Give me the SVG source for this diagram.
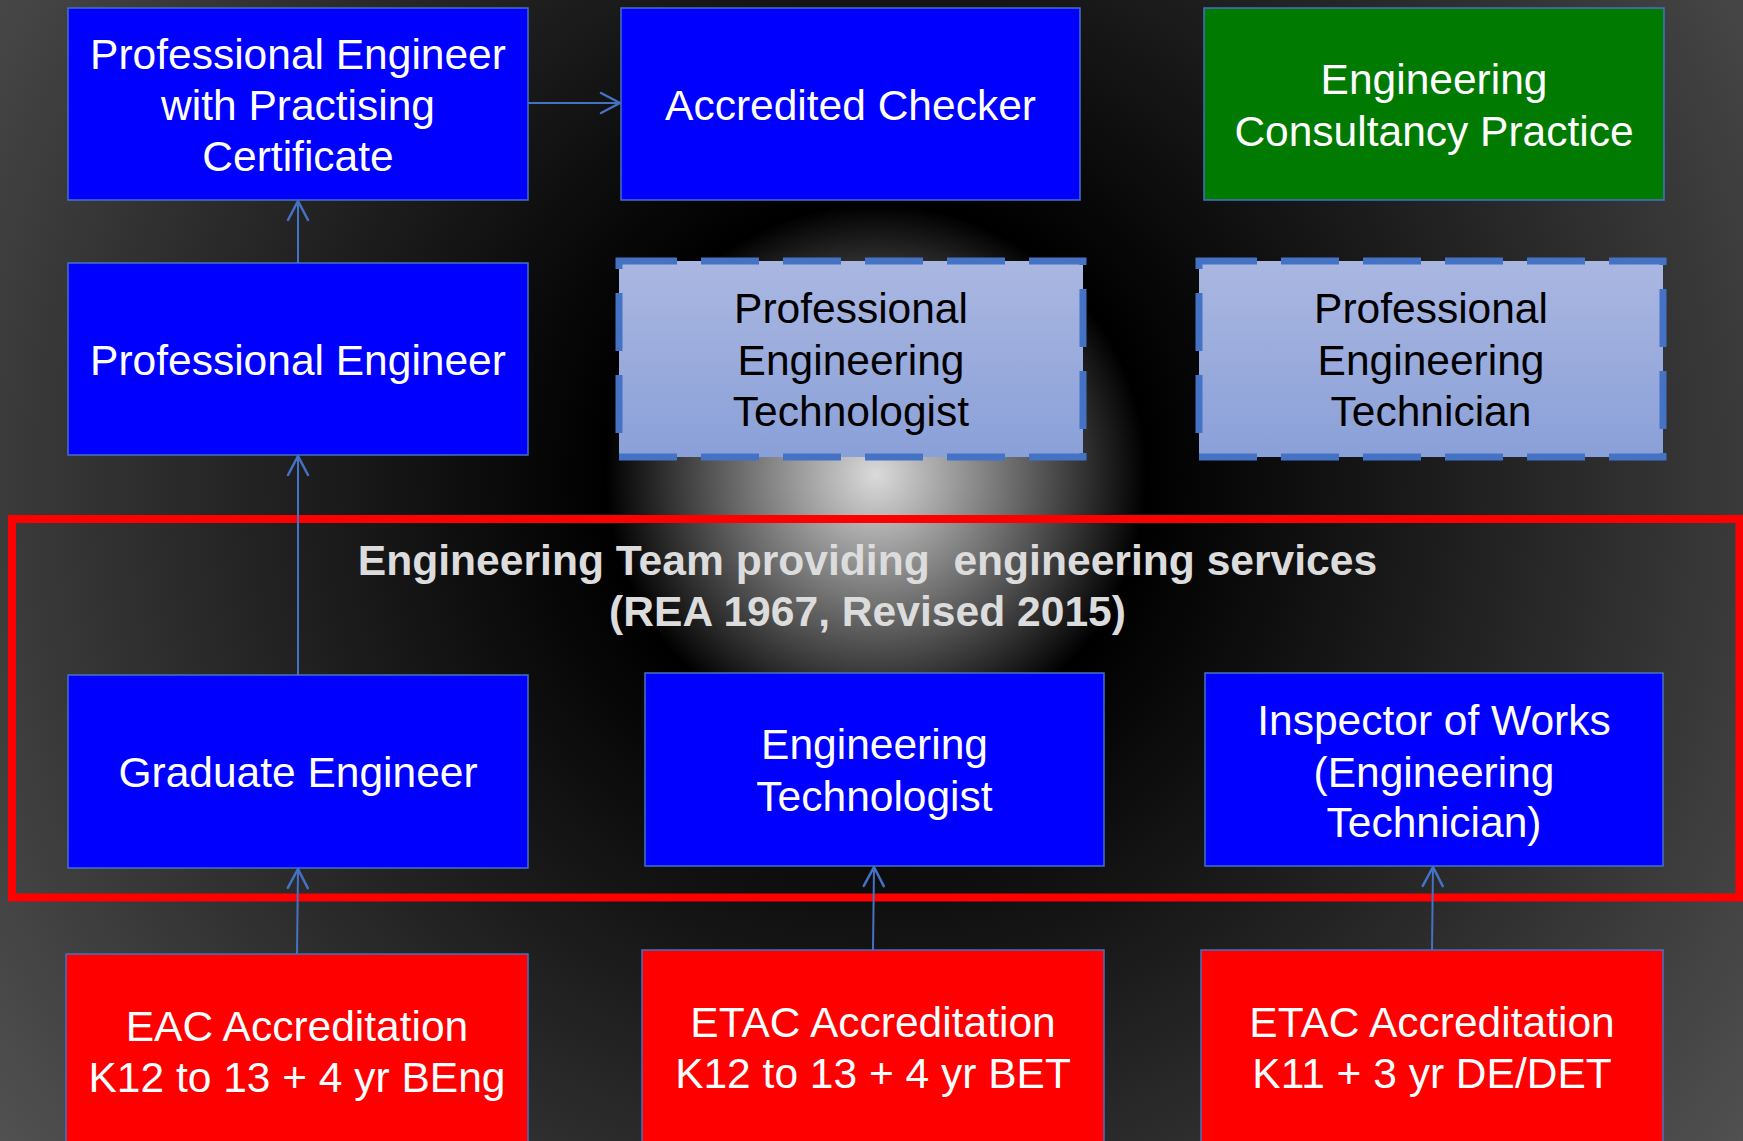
<svg xmlns="http://www.w3.org/2000/svg" width="1743" height="1141" viewBox="0 0 1743 1141">
<defs>
<radialGradient id="bg" gradientUnits="userSpaceOnUse" cx="876" cy="475" r="1150">
<stop offset="0" stop-color="#dadada"/>
<stop offset="0.235" stop-color="#000000"/>
<stop offset="1" stop-color="#565656"/>
</radialGradient>
<linearGradient id="lb" x1="0" y1="0" x2="0" y2="1">
<stop offset="0" stop-color="#aab7e1"/>
<stop offset="1" stop-color="#8aa0d8"/>
</linearGradient>
<marker id="arr" markerUnits="userSpaceOnUse" markerWidth="24" markerHeight="24" refX="19" refY="10" orient="auto" overflow="visible">
<path d="M0,0 L19,10 L0,20" fill="none" stroke="#4472c4" stroke-width="2.5" stroke-linejoin="round" stroke-linecap="round"/>
</marker>
<style>
.blue{fill:#0000ff;stroke:#4472c4;stroke-width:1.5}
.green{fill:#007a00;stroke:#4472c4;stroke-width:1.5}
.red{fill:#ff0000;stroke:#4472c4;stroke-width:1.5}
.dash{fill:url(#lb);stroke:#4472c4;stroke-width:7;stroke-dasharray:58 24}
.wt{font-family:"Liberation Sans",Arial,sans-serif;font-size:42.5px;fill:#ffffff;text-anchor:middle}
.bt{font-family:"Liberation Sans",Arial,sans-serif;font-size:42.5px;fill:#000000;text-anchor:middle}
.title{font-family:"Liberation Sans",Arial,sans-serif;font-size:42.6px;font-weight:bold;fill:#dcdcdc;text-anchor:middle}
.conn{stroke:#4472c4;stroke-width:2;fill:none;marker-end:url(#arr)}
</style>
</defs>
<rect x="0" y="0" width="1743" height="1141" fill="url(#bg)"/>

<g id="team-frame">
<rect x="12" y="519" width="1727.5" height="378.5" fill="none" stroke="#ff0000" stroke-width="8"/>
<text class="title" x="867.5" y="575" xml:space="preserve">Engineering Team providing  engineering services</text>
<text class="title" x="867.5" y="626">(REA 1967, Revised 2015)</text>
</g>

<g id="pe-pc">
<rect class="blue" x="68" y="8" width="460" height="192"/>
<text class="wt" x="298" y="69">Professional Engineer</text>
<text class="wt" x="298" y="120">with Practising</text>
<text class="wt" x="298" y="171">Certificate</text>
</g>
<g id="accredited-checker">
<rect class="blue" x="621" y="8" width="459" height="192"/>
<text class="wt" x="850.5" y="120">Accredited Checker</text>
</g>
<g id="consultancy">
<rect class="green" x="1204" y="8" width="460" height="192"/>
<text class="wt" x="1434" y="94">Engineering</text>
<text class="wt" x="1434" y="146">Consultancy Practice</text>
</g>
<g id="pe">
<rect class="blue" x="68" y="263" width="460" height="192"/>
<text class="wt" x="298" y="375">Professional Engineer</text>
</g>
<g id="pe-technologist">
<path class="dash" d="M619,261 H1083 V457 H619 Z"/>
<text class="bt" x="851" y="323">Professional</text>
<text class="bt" x="851" y="375">Engineering</text>
<text class="bt" x="851" y="426">Technologist</text>
</g>
<g id="pe-technician">
<path class="dash" d="M1199,261 H1663 V457 H1199 Z"/>
<text class="bt" x="1431" y="323">Professional</text>
<text class="bt" x="1431" y="375">Engineering</text>
<text class="bt" x="1431" y="426">Technician</text>
</g>
<g id="graduate">
<rect class="blue" x="68" y="675" width="460" height="193"/>
<text class="wt" x="298" y="787">Graduate Engineer</text>
</g>
<g id="eng-technologist">
<rect class="blue" x="645" y="673" width="459" height="193"/>
<text class="wt" x="874.5" y="759">Engineering</text>
<text class="wt" x="874.5" y="811">Technologist</text>
</g>
<g id="inspector">
<rect class="blue" x="1205" y="673" width="458" height="193"/>
<text class="wt" x="1434" y="735">Inspector of Works</text>
<text class="wt" x="1434" y="787">(Engineering</text>
<text class="wt" x="1434" y="837">Technician)</text>
</g>
<g id="eac">
<rect class="red" x="66" y="954" width="462" height="200"/>
<text class="wt" x="297" y="1041">EAC Accreditation</text>
<text class="wt" x="297" y="1092">K12 to 13 + 4 yr BEng</text>
</g>
<g id="etac1">
<rect class="red" x="642" y="950" width="462" height="200"/>
<text class="wt" x="873" y="1037">ETAC Accreditation</text>
<text class="wt" x="873" y="1088">K12 to 13 + 4 yr BET</text>
</g>
<g id="etac2">
<rect class="red" x="1201" y="950" width="462" height="200"/>
<text class="wt" x="1432" y="1037">ETAC Accreditation</text>
<text class="wt" x="1432" y="1088">K11 + 3 yr DE/DET</text>
</g>

<g id="connectors">
<line class="conn" x1="528" y1="103" x2="620" y2="103"/>
<line class="conn" x1="298" y1="263" x2="298" y2="201"/>
<line class="conn" x1="298" y1="675" x2="298" y2="456"/>
<line class="conn" x1="297" y1="954" x2="298" y2="869"/>
<line class="conn" x1="873" y1="950" x2="874" y2="867"/>
<line class="conn" x1="1432" y1="950" x2="1433" y2="867"/>
</g>
</svg>
